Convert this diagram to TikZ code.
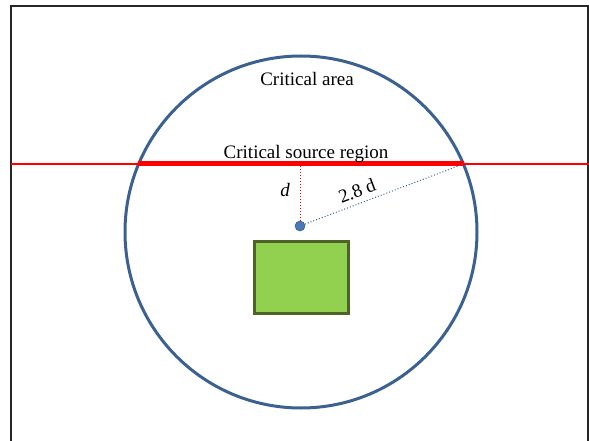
\documentclass[tikz,border=0pt]{standalone}
\usepackage{fontspec}
\setmainfont{Liberation Serif}
\definecolor{circblue}{HTML}{3A6191}
\definecolor{boxgreen}{HTML}{92D050}
\definecolor{boxedge}{HTML}{4F6228}
\definecolor{dotblue}{HTML}{4A78B4}
\begin{document}
\begin{tikzpicture}[x=1pt,y=-1pt,
  lbl/.style={inner sep=0pt,font=\fontsize{19}{21}\selectfont},
  frameline/.style={line width=2pt,black!85},
  thinred/.style={draw=red,line width=1.3pt},
  thickred/.style={draw=red,line width=5pt},
  radline/.style={dotted,line width=1pt}]
\useasboundingbox (0,0) rectangle (589,441);
% frame
\coordinate (fbl) at (11,442);
\coordinate (ftl) at (11,6.5);
\coordinate (ftr) at (588,6.5);
\coordinate (fbr) at (588,442);
\draw[frameline] (fbl) -- (ftl) -- (ftr) -- (fbr);
% circle
\node[circle,draw=circblue,line width=3pt,minimum size=352pt,inner sep=0pt] (crit) at (301,232) {};
% source line
\coordinate (rl) at (11,164);
\coordinate (rr) at (589,164);
\draw[thinred] (rl) -- (rr);
\coordinate (sl) at (138,164);
\coordinate (sr) at (463.5,164);
\draw[thickred] (sl) -- (sr);
% source point
\coordinate (foot) at (300,166);
\node[circle,fill=dotblue,draw=circblue,line width=0.6pt,minimum size=10pt,inner sep=0pt] (src) at (300,226) {};
\draw[radline,red!85!black] (src) -- (foot);
\draw[radline,circblue] (src) -- (sr);
% box
\node[draw=boxedge,fill=boxgreen,line width=3pt,minimum width=94pt,minimum height=72pt,inner sep=0pt] (box) at (301,277) {};
% labels
\node[lbl] (tarea) at (307,79) {Critical area};
\node[lbl] (tsrc) at (306,154) {Critical source region};
\node[lbl,font=\fontsize{19}{21}\selectfont\itshape] (td) at (285,190) {d};
\node[lbl,rotate=20.8] (tdist) at (357,191) {2.8 d};
\end{tikzpicture}
\end{document}
